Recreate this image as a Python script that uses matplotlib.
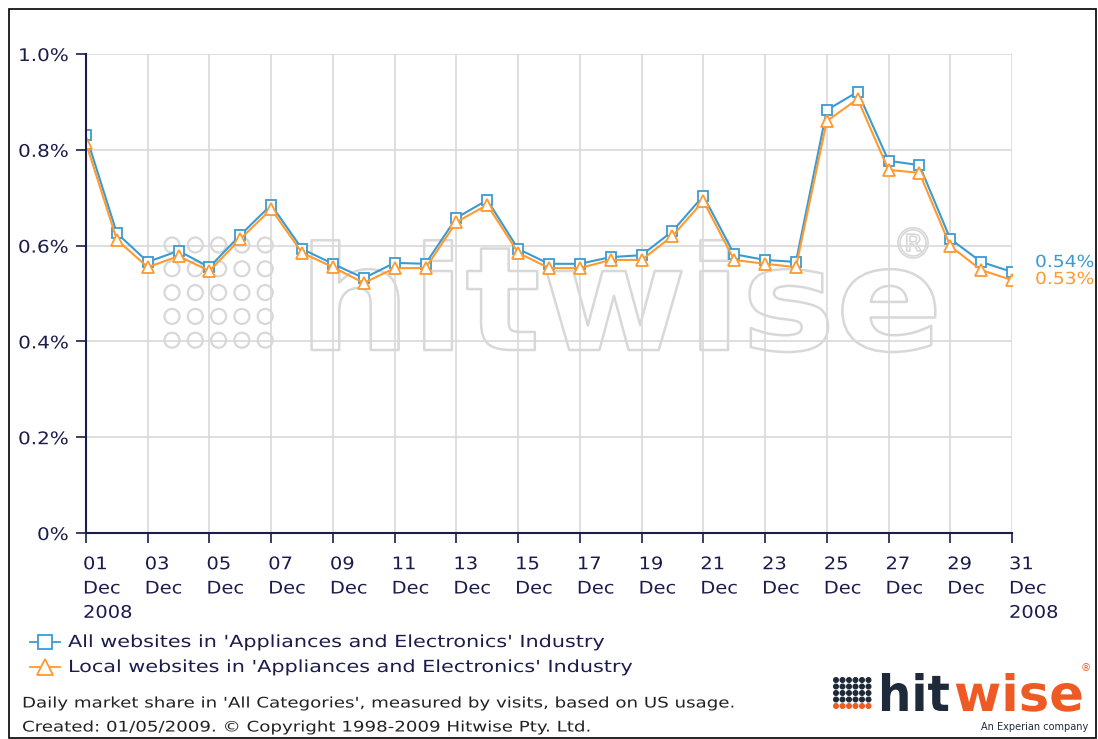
import matplotlib
matplotlib.use("Agg")
import matplotlib.pyplot as plt
import matplotlib.patheffects as pe
import matplotlib.transforms as mtrans
from matplotlib.patches import Rectangle, Circle
from matplotlib.lines import Line2D

days = list(range(1, 32))
all_sites = [0.83, 0.626, 0.566, 0.589, 0.555, 0.622, 0.685, 0.593, 0.562, 0.532,
             0.564, 0.562, 0.658, 0.695, 0.593, 0.562, 0.562, 0.576, 0.580, 0.630,
             0.704, 0.582, 0.570, 0.566, 0.883, 0.921, 0.777, 0.768, 0.614, 0.566, 0.545]
local_sites = [0.814, 0.612, 0.555, 0.578, 0.547, 0.614, 0.676, 0.585, 0.555, 0.522,
               0.553, 0.553, 0.649, 0.685, 0.585, 0.553, 0.553, 0.570, 0.570, 0.620,
               0.693, 0.570, 0.562, 0.555, 0.860, 0.906, 0.758, 0.752, 0.599, 0.549, 0.528]
tick_days = list(range(1, 32, 2))
y_ticks = [0, 0.2, 0.4, 0.6, 0.8, 1.0]
y_labels = ["0%", "0.2%", "0.4%", "0.6%", "0.8%", "1.0%"]
series_names = ["All websites in 'Appliances and Electronics' Industry",
                "Local websites in 'Appliances and Electronics' Industry"]
end_labels = ["0.54%", "0.53%"]
footnotes = ["Daily market share in 'All Categories', measured by visits, based on US usage.",
             "Created: 01/05/2009. \u00a9 Copyright 1998-2009 Hitwise Pty. Ltd."]

BLUE = "#3b9bd1"
ORANGE = "#ff9a2e"
NAVY = "#1c1c4c"
GRID = "#d9d9d9"
WM = "#d8d8d8"
LOGO_DARK = "#1e2a3a"
LOGO_ORANGE = "#ef5a24"

W, H = 1098, 739
plt.rcParams['font.family'] = ['DejaVu Sans']
fig = plt.figure(figsize=(W / 100, H / 100), dpi=100)
PIX = mtrans.IdentityTransform()


class Stretch(pe.AbstractPathEffect):
    """Horizontally widen glyphs (the reference uses a wide, loosely spaced font)."""
    def __init__(self, sx, anchor="left", stroke=None, lw=1.0):
        super().__init__()
        self.sx, self.anchor, self.stroke, self.lw = sx, anchor, stroke, lw

    def draw_path(self, renderer, gc, tpath, affine, rgbFace=None):
        ext = affine.transform_path(tpath).get_extents()
        if self.anchor == "left":
            x0 = affine.transform((0, 0))[0]
        elif self.anchor == "right":
            x0 = ext.x1
        else:
            x0 = (ext.x0 + ext.x1) / 2
        new = affine + mtrans.Affine2D().translate(-x0, 0).scale(self.sx, 1).translate(x0, 0)
        if self.stroke is not None:
            gc0 = renderer.new_gc()
            gc0.copy_properties(gc)
            gc0.set_foreground(self.stroke)
            gc0.set_linewidth(self.lw)
            renderer.draw_path(gc0, tpath, new, None)
            gc0.restore()
        else:
            renderer.draw_path(gc, tpath, new, rgbFace)


def fx(px):
    return px / W


def fy(py):
    return 1 - py / H


# outer frame
fig.patches.append(Rectangle((fx(9), fy(738)), fx(1096) - fx(9), fy(9) - fy(738),
                             transform=fig.transFigure, fill=False, edgecolor="black", lw=1.2))

ax = fig.add_axes([fx(86), fy(533), fx(1012) - fx(86), fy(54) - fy(533)])
ax.set_xlim(1, 31)
ax.set_ylim(0, 1.0)
for s in ["top", "right"]:
    ax.spines[s].set_visible(False)
for s in ["left", "bottom"]:
    ax.spines[s].set_color(NAVY)
    ax.spines[s].set_linewidth(1.5)
    ax.spines[s].set_zorder(6)

ax.set_xticks(tick_days)
ax.set_yticks(y_ticks)
ax.set_yticklabels(y_labels)
xl = []
for d in tick_days:
    if d in (1, 31):
        xl.append(f"{d:02d}\nDec\n2008")
    else:
        xl.append(f"{d:02d}\nDec")
ax.set_xticklabels(xl, ha="left", va="top", linespacing=1.45)
ax.tick_params(axis="both", colors=NAVY, labelcolor=NAVY, labelsize=12.5, length=7, width=1.2, direction="out")
ax.tick_params(axis="x", pad=9)
ax.tick_params(axis="y", pad=5.5)
offset = mtrans.ScaledTranslation(-3 / 100, 0, fig.dpi_scale_trans)
for lab in ax.get_xticklabels():
    lab.set_transform(lab.get_transform() + offset)
    lab.set_path_effects([Stretch(1.12, "left")])
for lab in ax.get_yticklabels():
    lab.set_path_effects([Stretch(1.15, "right")])

ax.grid(True, color=GRID, lw=1.2)
ax.set_axisbelow(True)

# watermark (behind the data lines)
for i in range(5):
    for j in range(5):
        ax.add_patch(Circle((172 + i * 23.3, H - (245 + j * 23.8)), 7.5, transform=PIX,
                            fill=False, edgecolor=WM, lw=1.6, zorder=1.5, clip_on=False))
wm_text = ax.text(621, H - 350, "hitwise", transform=PIX, fontsize=104, fontweight="bold",
                  color=(0, 0, 0, 0), ha="center", va="baseline", zorder=1.5, clip_on=False)
ax.text(913, H - 246, "\u00ae", transform=PIX, fontsize=30, color=(0, 0, 0, 0),
        ha="center", va="center", zorder=1.5, clip_on=False,
        path_effects=[Stretch(1.0, "center", WM, 1.2)])

ax.plot(days, all_sites, color=BLUE, lw=1.5, marker="s", ms=7, mfc="white", mec=BLUE, mew=1.3, zorder=4)
ax.plot(days, local_sites, color=ORANGE, lw=1.5, marker="^", ms=8, mfc="white", mec=ORANGE, mew=1.3, zorder=5)

ax.text(1035, H - 262, end_labels[0], transform=PIX, color=BLUE, fontsize=12, va="center", ha="left",
        clip_on=False, path_effects=[Stretch(1.12, "left")])
ax.text(1035, H - 279, end_labels[1], transform=PIX, color=ORANGE, fontsize=12, va="center", ha="left",
        clip_on=False, path_effects=[Stretch(1.12, "left")])

# legend
leg_texts = []
for k, (name, col, mk) in enumerate([(series_names[0], BLUE, "s"), (series_names[1], ORANGE, "^")]):
    yy = fy(642 + k * 25)
    fig.add_artist(Line2D([fx(30), fx(60)], [yy, yy], transform=fig.transFigure, color=col, lw=1.3))
    fig.add_artist(Line2D([fx(45)], [yy], transform=fig.transFigure, marker=mk, ms=10 if mk == "s" else 11,
                          mfc="white", mec=col, mew=1.3, ls="none"))
    leg_texts.append(fig.text(fx(68), yy, name, color=NAVY, fontsize=12, va="center", ha="left"))

foot_texts = []
for k, line in enumerate(footnotes):
    foot_texts.append(fig.text(fx(22), fy(703 + k * 24), line, color="#222222", fontsize=10.5,
                               va="center", ha="left"))

# logo
for i in range(6):
    for j in range(5):
        c = LOGO_ORANGE if j == 4 else LOGO_DARK
        ax.add_patch(Circle((836 + i * 6.5, H - (680 + j * 6.5)), 2.3, transform=PIX,
                            color=c, zorder=3, clip_on=False))
logo_hit = fig.text(fx(878), fy(711), "hit", color=LOGO_DARK, fontsize=36, fontweight="heavy",
                    ha="left", va="baseline")
logo_wise = fig.text(fx(954), fy(711), "wise", color=LOGO_ORANGE, fontsize=36, fontweight="heavy",
                     ha="left", va="baseline")
fig.text(fx(1086), fy(668), "\u00ae", color=LOGO_ORANGE, fontsize=7.5, ha="center", va="center")
fig.text(fx(1088), fy(727), "An Experian company", color=LOGO_DARK, fontsize=7, ha="right", va="center")

# fit the wide reference lettering
fig.canvas.draw()
r = fig.canvas.get_renderer()
w_leg = leg_texts[0].get_window_extent(r).width
for t in leg_texts:
    t.set_path_effects([Stretch(535.0 / w_leg, "left")])
w_foot = foot_texts[0].get_window_extent(r).width
for t in foot_texts:
    t.set_path_effects([Stretch(718.0 / w_foot, "left")])
w_wm = wm_text.get_window_extent(r).width
wm_text.set_path_effects([Stretch(645.0 / w_wm, "center", WM, 1.8)])
logo_hit.set_path_effects([Stretch(72.0 / logo_hit.get_window_extent(r).width, "left")])
logo_wise.set_path_effects([Stretch(130.0 / logo_wise.get_window_extent(r).width, "left")])

fig.savefig("out.png", dpi=100, facecolor="white")
